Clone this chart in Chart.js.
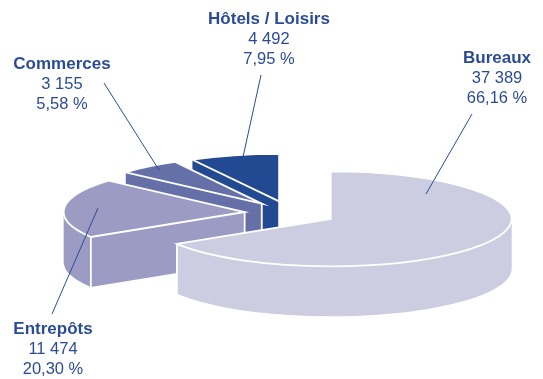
<!DOCTYPE html>
<html lang="fr">
<head>
<meta charset="utf-8">
<title>Répartition par secteur</title>
<script src="https://cdn.jsdelivr.net/npm/chart.js@4"></script>
<style>
  html, body { margin: 0; padding: 0; background: #fff; }
  canvas { display: block; }
</style>
</head>
<body>
<canvas id="pie" width="543" height="379"></canvas>
<script>
// Surfaces par type d'actif
const categories = ['Bureaux', 'Entrepôts', 'Commerces', 'Hôtels / Loisirs'];
const surfaces = [37389, 11474, 3155, 4492];
const surfaceLabels = ['37 389', '11 474', '3 155', '4 492'];
const shareLabels = ['66,16 %', '20,30 %', '5,58 %', '7,95 %'];
const sliceColours = ['#CCCDE1', '#9B9BC3', '#6570A8', '#224A92'];

// Perspective of the pie
const TILT = 0.262;
const DEPTH = 50;
const EXPLODE = 46;
const RIM_WIDTH = 1.8;
const TEXT_BLUE = '#2B4C95';

// Caption blocks: centre x and baseline of the first line; leader from/to
const captionX = [497, 53, 62, 269];
const captionY = [63, 334, 69, 24];
const leaderStart = [[472, 114], [52, 314], [104, 83], [261, 75]];
const leaderEnd = [[426, 194], [98, 208], [159, 170], [243, 157]];

// Where a slice's apex lands once pulled out along its mid angle
function exploded(arc) {
  const p = arc.getProps(['x', 'y', 'startAngle', 'endAngle', 'outerRadius'], true);
  const mid = (p.startAngle + p.endAngle) / 2;
  const dx = Math.cos(mid) * EXPLODE;
  const dy = Math.sin(mid) * EXPLODE;
  return {
    ...p,
    r: p.outerRadius,
    dx,
    dy,
    ax: p.x + dx,
    ay: p.y + dy * TILT,
    ry: p.outerRadius * TILT
  };
}

function edge(ctx, x1, y1, x2, y2) {
  ctx.beginPath();
  ctx.moveTo(x1, y1);
  ctx.lineTo(x2, y2);
  ctx.stroke();
}

function drawWalls(ctx, g, colour) {
  const r = g.r;
  ctx.fillStyle = colour;
  ctx.strokeStyle = '#fff';
  ctx.lineWidth = RIM_WIDTH;

  // Flat face along the leading radius, when it looks towards the viewer
  if (Math.cos(g.startAngle) < -1e-6) {
    const ex = g.ax + Math.cos(g.startAngle) * r;
    const ey = g.ay + Math.sin(g.startAngle) * g.ry;
    ctx.beginPath();
    ctx.moveTo(g.ax, g.ay);
    ctx.lineTo(ex, ey);
    ctx.lineTo(ex, ey + DEPTH);
    ctx.lineTo(g.ax, g.ay + DEPTH);
    ctx.closePath();
    ctx.fill();
    edge(ctx, g.ax, g.ay, g.ax, g.ay + DEPTH);
  }

  // Curved rim on the front half of the ellipse
  const a0 = Math.max(g.startAngle, 0);
  const a1 = Math.min(g.endAngle, Math.PI);
  if (a0 < a1) {
    ctx.beginPath();
    ctx.ellipse(g.ax, g.ay, r, g.ry, 0, a0, a1);
    ctx.ellipse(g.ax, g.ay + DEPTH, r, g.ry, 0, a1, a0, true);
    ctx.closePath();
    ctx.fill();
    for (const a of [a0, a1]) {
      if (a > 0 && a < Math.PI) {
        const x = g.ax + Math.cos(a) * r;
        const y = g.ay + Math.sin(a) * g.ry;
        edge(ctx, x, y, x, y + DEPTH);
      }
    }
  }
}

function outlineTop(ctx, g) {
  ctx.strokeStyle = '#fff';
  ctx.lineWidth = RIM_WIDTH;
  ctx.beginPath();
  ctx.moveTo(g.ax, g.ay);
  ctx.ellipse(g.ax, g.ay, g.r, g.ry, 0, g.startAngle, g.endAngle);
  ctx.closePath();
  ctx.stroke();
}

// Extrudes the arcs computed by the doughnut controller and flattens their top faces
const tiltedPie = {
  id: 'tiltedPie',
  beforeDatasetDraw(chart, args) {
    const ctx = chart.ctx;
    const arcs = args.meta.data
      .map((arc, i) => ({ arc, i, g: exploded(arc) }))
      .sort((a, b) => a.g.ay - b.g.ay);
    for (const { arc, i, g } of arcs) {
      drawWalls(ctx, g, sliceColours[i]);
      ctx.save();
      ctx.translate(g.dx, g.y + g.dy * TILT);
      ctx.scale(1, TILT);
      ctx.translate(0, -g.y);
      arc.draw(ctx, chart.chartArea);
      ctx.restore();
      outlineTop(ctx, g);
    }
    return false;
  },
  afterDraw(chart) {
    const ctx = chart.ctx;
    ctx.save();
    ctx.strokeStyle = TEXT_BLUE;
    ctx.lineWidth = 1;
    leaderStart.forEach((from, i) => {
      edge(ctx, from[0], from[1], leaderEnd[i][0], leaderEnd[i][1]);
    });
    ctx.fillStyle = TEXT_BLUE;
    ctx.textAlign = 'center';
    ctx.textBaseline = 'alphabetic';
    categories.forEach((name, i) => {
      ctx.font = 'bold 17px "Liberation Sans"';
      ctx.fillText(name, captionX[i], captionY[i]);
      ctx.font = '16.5px "Liberation Sans"';
      ctx.fillText(surfaceLabels[i], captionX[i], captionY[i] + 20);
      ctx.fillText(shareLabels[i], captionX[i], captionY[i] + 40);
    });
    ctx.restore();
  }
};

new Chart(document.getElementById('pie'), {
  type: 'pie',
  data: {
    labels: categories,
    datasets: [{
      data: surfaces,
      backgroundColor: sliceColours,
      borderWidth: 0
    }]
  },
  options: {
    responsive: false,
    animation: false,
    radius: 181,
    layout: { padding: { left: 38, top: 47 } },
    plugins: { legend: { display: false }, tooltip: { enabled: false } }
  },
  plugins: [tiltedPie]
});
</script>
</body>
</html>
